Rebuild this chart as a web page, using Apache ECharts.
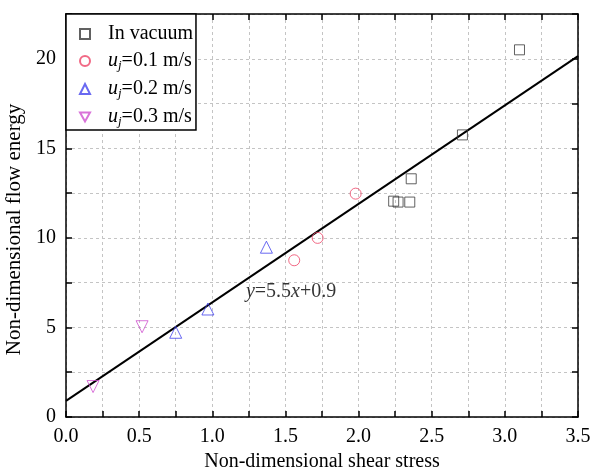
<!DOCTYPE html>
<html>
<head>
<meta charset="utf-8">
<script src="https://cdn.jsdelivr.net/npm/echarts@6/dist/echarts.min.js"></script>
<style>
  html, body { margin: 0; padding: 0; background: #fff; }
  #chart { width: 593px; height: 470px; }
</style>
</head>
<body>
<div id="chart"></div>
<script>
// data: [shear stress, flow energy]
const vacuumPts = [[3.10, 20.5], [2.71, 15.75], [2.36, 13.3], [2.24, 12.05], [2.27, 12.0], [2.35, 12.0]];
const u01Pts = [[1.98, 12.47], [1.72, 10.0], [1.56, 8.75]];
const u02Pts = [[1.37, 9.48], [0.97, 6.03], [0.75, 4.73]];
const u03Pts = [[0.52, 5.04], [0.185, 1.7]];
// fitted line y = 5.5x + 0.9
const fitPts = [[0, 0.9], [3.5, 20.15]];
const fitLabelPt = [1.23, 7.0];

const seriesNames = ['In vacuum', 'uj=0.1 m/s', 'uj=0.2 m/s', 'uj=0.3 m/s'];
const legendText = {
  'In vacuum': 'In vacuum',
  'uj=0.1 m/s': '{i|u}{s|j}=0.1 m/s',
  'uj=0.2 m/s': '{i|u}{s|j}=0.2 m/s',
  'uj=0.3 m/s': '{i|u}{s|j}=0.3 m/s'
};

const font = 'Liberation Serif';
const fs = 20;
const chart = echarts.init(document.getElementById('chart'));

const tickStyle = () => ({ show: true, inside: true, length: 6, lineStyle: { color: '#000', width: 1.5 } });
const axLine = () => ({ show: true, onZero: false, lineStyle: { color: '#000', width: 1.5 } });
const gridLines = () => ({ show: true, lineStyle: { color: '#c4c4c4', type: [3, 3], width: 1 } });

const option = {
  backgroundColor: '#fff',
  animation: false,
  grid: { left: 66, right: 15, top: 14, bottom: 53, outerBoundsMode: 'none' },
  legend: {
    data: seriesNames,
    orient: 'vertical',
    left: 66,
    top: 14,
    backgroundColor: '#fff',
    borderColor: '#000',
    borderWidth: 1.5,
    borderRadius: 0,
    padding: [10, 3, 2, 13],
    itemGap: 7,
    itemWidth: 10,
    itemHeight: 10,
    formatter: (name) => legendText[name],
    textStyle: {
      fontFamily: font, fontSize: fs, color: '#000', padding: [0, 0, 0, 13],
      rich: {
        i: { fontFamily: font, fontSize: fs, fontStyle: 'italic', color: '#000' },
        s: { fontFamily: font, fontSize: 13, fontStyle: 'italic', color: '#000', padding: [9, 0, 0, 0] }
      }
    }
  },
  xAxis: [{
    type: 'value', min: 0, max: 3.5, interval: 0.25,
    name: 'Non-dimensional shear stress', nameLocation: 'middle', nameGap: 32,
    nameTextStyle: { fontFamily: font, fontSize: fs, color: '#000' },
    axisLine: axLine(),
    axisTick: tickStyle(),
    splitLine: gridLines(),
    axisLabel: {
      fontFamily: font, fontSize: fs, color: '#000', margin: 10,
      formatter: (v) => (Math.round(v * 100) % 50 === 0 ? v.toFixed(1) : '')
    }
  }, {
    type: 'value', min: 0, max: 3.5, interval: 0.25, position: 'top',
    axisLine: axLine(), axisTick: tickStyle(), axisLabel: { show: false }, splitLine: { show: false }
  }],
  yAxis: [{
    type: 'value', min: 0, max: 22.5, interval: 2.5,
    name: 'Non-dimensional flow energy', nameLocation: 'middle', nameGap: 34,
    nameTextStyle: { fontFamily: font, fontSize: 21, color: '#000', padding: [0, 28, 0, 0] },
    axisLine: axLine(),
    axisTick: tickStyle(),
    splitLine: gridLines(),
    axisLabel: {
      fontFamily: font, fontSize: fs, color: '#000', margin: 10,
      formatter: (v) => (Math.round(v * 10) % 50 === 0 ? String(v) : '')
    }
  }, {
    type: 'value', min: 0, max: 22.5, interval: 2.5, position: 'right',
    axisLine: axLine(), axisTick: tickStyle(), axisLabel: { show: false }, splitLine: { show: false }
  }],
  series: [
    {
      name: 'fit', type: 'line', data: fitPts, showSymbol: false, silent: true,
      lineStyle: { color: '#000', width: 2 }, z: 3
    },
    {
      name: 'label', type: 'scatter', data: [fitLabelPt], symbolSize: 0, silent: true,
      label: {
        show: true, position: 'right', distance: 0,
        formatter: '{i|y}=5.5{i|x}+0.9',
        fontFamily: font, fontSize: fs, color: '#000',
        rich: { i: { fontFamily: font, fontSize: fs, fontStyle: 'italic', color: '#000' } }
      }
    },
    {
      name: seriesNames[0], type: 'scatter', data: vacuumPts, symbol: 'rect', symbolSize: 10,
      itemStyle: { color: 'transparent', borderColor: '#3a3a3a', borderWidth: 1 }, z: 4
    },
    {
      name: seriesNames[1], type: 'scatter', data: u01Pts, symbol: 'circle', symbolSize: 11,
      itemStyle: { color: 'transparent', borderColor: '#ee4466', borderWidth: 1 }, z: 4
    },
    {
      name: seriesNames[2], type: 'scatter', data: u02Pts, symbol: 'triangle', symbolSize: 12,
      itemStyle: { color: 'transparent', borderColor: '#4444ee', borderWidth: 1 }, z: 4
    },
    {
      name: seriesNames[3], type: 'scatter', data: u03Pts, symbol: 'path://M0,0 L10,0 L5,9 Z', symbolSize: 12,
      itemStyle: { color: 'transparent', borderColor: '#d050d0', borderWidth: 1 }, z: 4
    }
  ]
};

chart.setOption(option);
</script>
</body>
</html>
